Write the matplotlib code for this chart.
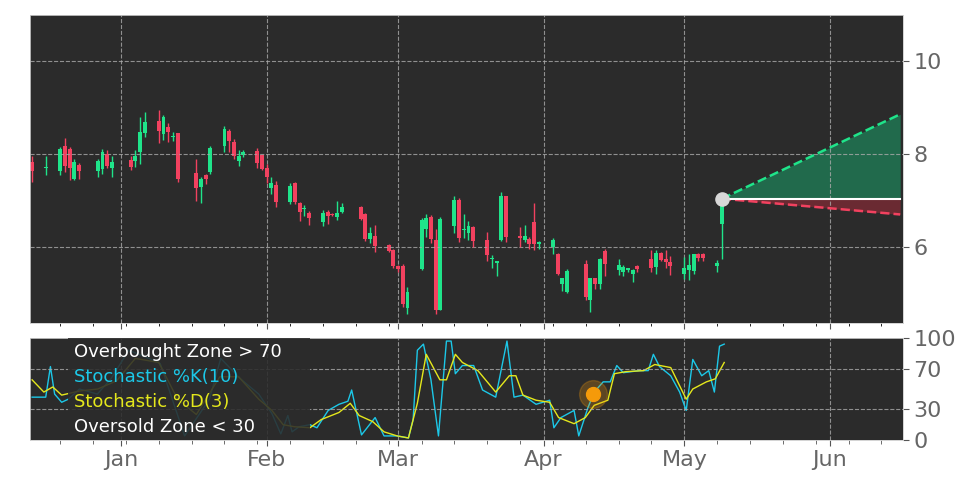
import numpy as np
import pandas as pd
import matplotlib
matplotlib.use('Agg')
import matplotlib.pyplot as plt
import matplotlib.dates as mdates

# trading days shown
days = pd.bdate_range('2022-12-13', '2023-05-09')
skip = pd.to_datetime(['2022-12-14', '2022-12-15', '2022-12-26', '2023-01-02',
                       '2023-01-16', '2023-02-20', '2023-04-07'])
dates = days[~days.isin(skip)]

opens = [7.83, 7.70, 7.64, 8.18, 8.11, 7.46, 7.77, 7.64, 7.68, 8.01,
         7.70, 7.88, 7.86, 8.04, 8.45, 8.72, 8.43, 8.59, 8.36, 8.45,
         7.60, 7.30, 7.55, 7.62, 8.18, 8.49, 8.27, 7.86, 7.99, 8.06,
         7.98, 7.71, 7.27, 7.34, 6.96, 7.37, 6.94, 6.81, 6.74, 6.53,
         6.76, 6.72, 6.65, 6.76, 6.85, 6.72, 6.17, 6.24, 6.04, 5.93,
         5.59, 5.59, 4.69, 5.53, 6.38, 6.65, 6.15, 4.65, 6.45, 7.01,
         6.36, 6.31, 6.42, 6.16, 5.73, 5.66, 6.16, 7.09, 6.23, 6.16,
         6.18, 6.53, 6.07, 6.00, 5.84, 5.19, 5.03, 5.64, 4.85, 5.34,
         5.19, 5.91, 5.50, 5.46, 5.51, 5.41, 5.59, 5.73, 5.57, 5.87,
         5.75, 5.68, 5.41, 5.50, 5.48, 5.84, 5.84, 5.58, 6.50, 6.97]
closes = [7.64, 7.72, 8.11, 7.75, 7.71, 7.84, 7.64, 7.86, 8.05, 7.75,
          7.83, 7.73, 7.96, 8.47, 8.70, 8.50, 8.81, 8.47, 8.38, 7.46,
          7.28, 7.46, 7.46, 8.14, 8.54, 8.29, 7.96, 7.96, 8.04, 7.82,
          7.68, 7.50, 7.37, 6.96, 7.32, 6.96, 6.76, 6.83, 6.63, 6.74,
          6.67, 6.69, 6.74, 6.85, 6.60, 6.17, 6.29, 6.02, 5.91, 5.59,
          5.52, 4.76, 5.03, 6.58, 6.63, 6.18, 4.65, 6.61, 7.01, 6.20,
          6.38, 6.45, 6.13, 5.82, 5.75, 5.68, 7.09, 6.22, 6.20, 6.23,
          6.07, 6.06, 6.09, 6.14, 5.41, 5.32, 5.48, 4.92, 5.34, 5.21,
          5.75, 5.63, 5.60, 5.57, 5.53, 5.50, 5.53, 5.55, 5.87, 5.71,
          5.68, 5.58, 5.55, 5.60, 5.84, 5.77, 5.77, 5.65, 6.96, 7.04]
highs = [7.95, 7.95, 8.15, 8.35, 8.15, 7.90, 7.80, 7.90, 8.12, 8.08,
         7.95, 7.95, 8.10, 8.80, 8.90, 8.95, 8.85, 8.68, 8.48, 8.45,
         7.90, 7.50, 7.58, 8.18, 8.60, 8.54, 8.32, 8.10, 8.09, 8.14,
         7.98, 7.78, 7.50, 7.42, 7.38, 7.40, 6.96, 6.90, 6.78, 6.80,
         6.80, 6.74, 7.00, 6.94, 6.88, 6.74, 6.42, 6.48, 6.06, 5.96,
         5.60, 5.64, 5.13, 6.62, 6.70, 6.68, 6.38, 6.64, 7.10, 7.06,
         6.70, 6.55, 6.46, 6.32, 5.82, 5.68, 7.18, 7.09, 6.42, 6.48,
         6.22, 6.94, 6.12, 6.20, 5.86, 5.34, 5.53, 5.72, 5.34, 5.34,
         5.76, 5.96, 5.75, 5.62, 5.53, 5.52, 5.62, 5.93, 5.93, 5.89,
         5.93, 5.80, 5.78, 5.85, 5.85, 5.86, 5.86, 5.72, 7.02, 7.16]
lows = [7.40, 7.55, 7.55, 7.62, 7.45, 7.44, 7.46, 7.50, 7.58, 7.70,
        7.50, 7.65, 7.72, 7.78, 8.38, 8.25, 8.30, 8.27, 8.28, 7.40,
        7.00, 6.95, 7.36, 7.58, 8.05, 8.05, 7.90, 7.75, 7.94, 7.70,
        7.65, 7.38, 7.15, 6.86, 6.92, 6.92, 6.55, 6.66, 6.48, 6.46,
        6.50, 6.66, 6.58, 6.74, 6.58, 6.12, 6.08, 5.90, 5.88, 5.55,
        5.45, 4.70, 4.56, 5.50, 6.22, 6.08, 4.55, 4.64, 6.30, 6.10,
        6.20, 6.15, 6.00, 5.70, 5.55, 5.38, 6.12, 6.10, 6.00, 6.10,
        5.96, 5.93, 5.95, 5.85, 5.40, 5.05, 5.00, 4.85, 4.60, 5.10,
        5.10, 5.38, 5.40, 5.38, 5.46, 5.25, 5.45, 5.45, 5.42, 5.69,
        5.55, 5.40, 5.30, 5.28, 5.42, 5.70, 5.70, 5.45, 5.75, 6.90]

# stochastic lines (days after 2022-12-13, value)
stoch_start = pd.Timestamp('2022-12-13')
k_days = [0, 2.9, 3.9, 4.8, 6.3, 7.7, 10.1, 13.9, 16.8, 20.6, 24.9, 27.3, 32.5, 37.8,
          40.2, 44.4, 48.3, 51.1, 53, 54.5, 55.4, 56.9, 59.2, 60.7, 63.1, 65.4, 67.3,
          68.1, 70.2, 73.1, 75, 77.8, 80.2, 81.2, 82.1, 83.4, 85, 86.6, 88.3, 89.3, 90.2,
          91.7, 94.1, 96, 98.8, 101.2, 102.7, 104.6, 107.4, 110.3, 111.2, 112.7, 115.5,
          116.5, 118.4, 119.8, 121.7, 123.2, 124.6, 126, 129.4, 131.3, 132.4, 133.7,
          136.1, 138, 139.4, 140.8, 142.7, 144.2, 145.4, 146.5, 147.5]
k_vals = [42, 42, 72, 45, 37, 40, 50, 45, 60, 88, 80, 75, 4, 40,
          80, 60, 45, 26, 6, 24, 8, 13, 15, 12, 29, 35, 38,
          49, 5, 22, 4, 4, 2, 20, 88, 94, 59, 4, 97, 97, 65,
          73, 73, 49, 42, 97, 42, 44, 35, 39, 12, 22, 29,
          4, 31, 47, 57, 57, 73, 66, 68, 68, 84, 72,
          63, 47, 29, 79, 63, 68, 47, 92, 94]
d_days = [0, 2.5, 4.4, 6.3, 10, 14, 18, 22, 27, 31, 35, 40, 44, 48.3, 51.1, 53.5,
          55.9, 59.2, 61.6, 65.4, 67.8, 69.7, 72.6, 75, 77.8, 80.2, 82.1, 84, 86.9,
          88.3, 90.2, 91.7, 95, 98.8, 101.7, 103.1, 104.6, 107.4, 110.3, 112.2, 115.5,
          117.9, 119.8, 122.7, 124.1, 126.5, 130.3, 132.7, 136.1, 139.4, 140.8, 143.7,
          145.6, 147.5]
d_vals = [59, 47, 52, 44, 48, 50, 58, 80, 76, 40, 25, 62, 62, 40, 29, 15,
          13, 12, 20, 27, 36, 24, 18, 8, 4, 2, 36, 84, 59,
          59, 84, 76, 68, 47, 63, 63, 44, 39, 37, 22, 16,
          22, 34, 39, 65, 67, 68, 74, 71, 40, 50, 57,
          60, 76]
signal_day = 119.6
signal_val = 45

proj_end = pd.Timestamp('2023-06-16')
proj_up = 8.86
proj_down = 6.70

green = '#1fe48a'
red = '#f2415f'
face = '#2b2b2b'
label_col = '#666666'

fig = plt.figure(figsize=(9.72, 4.86), dpi=100)
ax = fig.add_axes([30/972, 163/486, 873/972, 308/486])
ax2 = fig.add_axes([30/972, 46/486, 873/972, 102/486], sharex=ax)

for a in (ax, ax2):
    a.set_facecolor(face)
    for s in a.spines.values():
        s.set_color('#cccccc')
        s.set_linewidth(0.6)
    a.yaxis.tick_right()
    a.tick_params(axis='both', colors='#555555', labelcolor=label_col, labelsize=16, length=4)
    a.grid(True, color='#aaaaaa', linestyle='--', linewidth=0.8, alpha=0.8)

# candles
xs = mdates.date2num(dates)
for x, o, h, l, c in zip(xs, opens, highs, lows, closes):
    col = green if c >= o else red
    ax.vlines(x, l, h, color=col, linewidth=1)
    ax.bar(x, max(abs(c - o), 0.03), bottom=min(o, c), width=0.85, color=col, linewidth=0)

# projection cone
x0 = xs[-1]
x1 = mdates.date2num(proj_end)
c0 = closes[-1]
ax.fill_between([x0, x1], [c0, c0], [c0, proj_up], color='#1f7a55', alpha=0.8, linewidth=0)
ax.fill_between([x0, x1], [c0, c0], [c0, proj_down], color='#7a2a35', alpha=0.8, linewidth=0)
ax.plot([x0, x1], [c0, proj_up], color=green, linestyle='--', linewidth=1.8)
ax.plot([x0, x1], [c0, proj_down], color=red, linestyle='--', linewidth=1.8)
ax.plot([x0, x1], [c0, c0], color='white', linewidth=1.5)
ax.scatter([x0], [c0], s=90, color='#d8d8d8', zorder=5)

s0 = mdates.date2num(stoch_start)
ax.set_ylim(4.36, 11.0)
ax.set_yticks([6, 8, 10])
ax.set_xlim(s0 - 0.45, x1 + 0.6)
ax.tick_params(labelbottom=False)

# stochastic
ax2.plot(s0 + np.array(k_days), k_vals, color='#1cc8e8', linewidth=1)
ax2.plot(s0 + np.array(d_days), d_vals, color='#e5e81c', linewidth=1)
ax2.scatter([s0 + signal_day], [signal_val], s=400, color='#f59a0a', alpha=0.25, zorder=5)
ax2.scatter([s0 + signal_day], [signal_val], s=100, color='#f59a0a', zorder=6)
ax2.set_ylim(0, 100)
ax2.set_yticks([0, 30, 70, 100])
ax2.grid(False)
ax2.grid(True, axis='x', color='#aaaaaa', linestyle='--', linewidth=0.8, alpha=0.8)
for yv in (30, 70):
    ax2.axhline(yv, color='#aaaaaa', linestyle='--', linewidth=0.8, alpha=0.8)

ax2.xaxis.set_major_locator(mdates.MonthLocator())
ax2.xaxis.set_major_formatter(mdates.DateFormatter('%b'))
ax2.xaxis.set_minor_locator(mdates.WeekdayLocator(byweekday=mdates.MO))
ax.tick_params(axis='x', which='minor', length=2)
ax2.tick_params(axis='x', which='minor', length=3, colors='#555555')

# legend box
box = plt.Rectangle((0.043, 0.0), 0.278, 1.0, transform=ax2.transAxes,
                    facecolor=face, alpha=0.88, edgecolor='none', zorder=7)
ax2.add_patch(box)
labels = [('Overbought Zone > 70', 'white'), ('Stochastic %K(10)', '#1cc8e8'),
          ('Stochastic %D(3)', '#e5e81c'), ('Oversold Zone < 30', 'white')]
for i, (t, col) in enumerate(labels):
    ax2.text(0.05, 0.86 - i * 0.245, t, color=col, fontsize=13, transform=ax2.transAxes,
             va='center', ha='left', zorder=8)

fig.savefig('out.png', dpi=100)
